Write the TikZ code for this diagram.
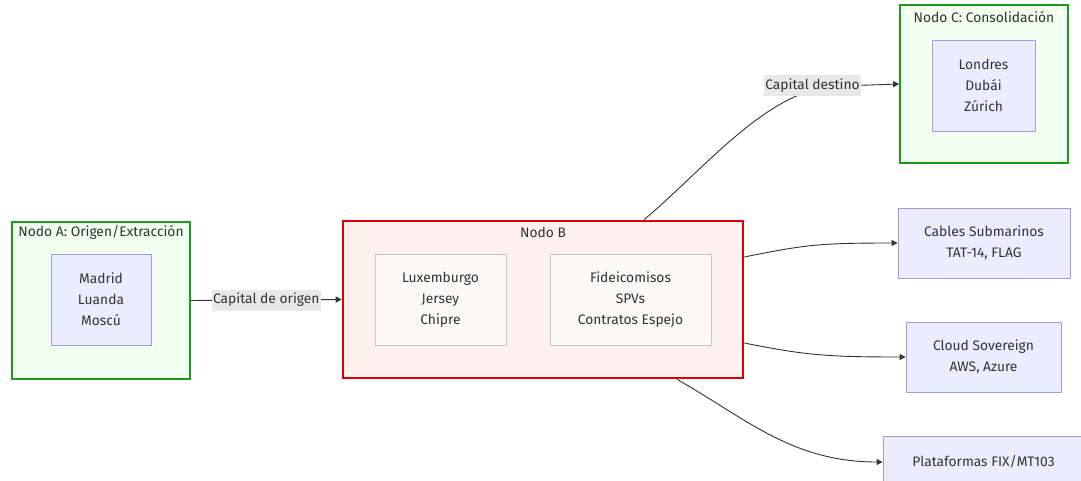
\documentclass[tikz,border=0pt]{standalone}
\usepackage{fontspec}
\setmainfont{Fira Sans}
\usetikzlibrary{arrows.meta}
\definecolor{txt}{HTML}{333333}
\definecolor{edge}{HTML}{333333}
\definecolor{grnline}{HTML}{1E9A1E}
\definecolor{grnfill}{HTML}{F0FFF0}
\definecolor{redline}{HTML}{DD0000}
\definecolor{redfill}{HTML}{FFF0F0}
\definecolor{purfill}{HTML}{ECECFF}
\definecolor{purline}{HTML}{A898E0}
\definecolor{grayfill}{HTML}{FCF8F8}
\definecolor{grayline}{HTML}{C8C8C8}
\definecolor{lblfill}{HTML}{E8E8E8}
\begin{document}
\begin{tikzpicture}[x=1pt,y=-1pt,
  font=\fontsize{13.8}{21}\selectfont, text=txt,
  cluster/.style={draw, rectangle, inner sep=0pt},
  greencl/.style={cluster, draw=grnline, fill=grnfill, line width=1.8pt},
  redcl/.style={cluster, draw=redline, fill=redfill, line width=2.6pt},
  itembox/.style={draw=purline, fill=purfill, line width=0.9pt, inner sep=0pt, align=center},
  graybox/.style={draw=grayline, fill=grayfill, line width=0.9pt, inner sep=0pt, align=center},
  ctitle/.style={anchor=center, inner sep=0pt},
  flow/.style={draw=edge, line width=0.9pt, -{Triangle[length=6pt,width=6pt]}},
  elabel/.style={fill=lblfill, inner xsep=1.5pt, inner ysep=0pt, minimum height=21pt, text=txt}]
\useasboundingbox (0,0) rectangle (1081,481);
\fill[white] (0,0) rectangle (1081,481);

% Node A cluster
\node[greencl, minimum width=178pt, minimum height=157pt] (A) at (101,300.5) {};
\node[ctitle] (Atitle) at (101,232) {Nodo A: Origen/Extracción};
\node[itembox, minimum width=100pt, minimum height=91pt] (Acities) at (101,299.5) {Madrid\\Luanda\\Moscú};

% Node B cluster
\node[redcl, minimum width=400pt, minimum height=157pt] (B) at (543,299.5) {};
\node[ctitle] (Btitle) at (543,232) {Nodo B};
\node[graybox, minimum width=131pt, minimum height=91pt] (Bjur) at (440.5,299.5) {Luxemburgo\\Jersey\\Chipre};
\node[graybox, minimum width=161pt, minimum height=91pt] (Bveh) at (630.5,299.5) {Fideicomisos\\SPVs\\Contratos Espejo};

% Node C cluster
\node[greencl, minimum width=168pt, minimum height=158pt] (C) at (984,84) {};
\node[ctitle] (Ctitle) at (984,17) {Nodo C: Consolidación};
\node[itembox, minimum width=103pt, minimum height=91pt] (Ccities) at (983.5,85.5) {Londres\\Dubái\\Zúrich};

% Infrastructure targets
\node[itembox, minimum width=172pt, minimum height=70pt] (Cab) at (984,243) {Cables Submarinos\\TAT-14, FLAG};
\node[itembox, minimum width=155pt, minimum height=70pt] (Cld) at (983.5,357) {Cloud Sovereign\\AWS, Azure};
\node[itembox, minimum width=201pt, minimum height=52pt] (Plt) at (983.5,462) {Plataformas FIX/MT103};

% Connectors
\draw[flow] (A.east) -- node[elabel] (lab1) {Capital de origen} (B.west);

\draw[flow] ([xshift=101pt]B.north) .. controls +(60pt,50pt) and +(-70pt,0pt) .. (840,86) -- (C.west);
\node[elabel] (lab2) at (812.5,85.5) {Capital destino};

\draw[flow] ([yshift=42.5pt]B.east) .. controls +(60pt,12pt) and +(-80pt,0pt) .. (Cab.west);
\draw[flow] ([yshift=-43.5pt]B.east) .. controls +(60pt,-12pt) and +(-80pt,0pt) .. (Cld.west);
\draw[flow] ([xshift=134pt]B.south) .. controls +(70pt,-40pt) and +(-90pt,0pt) .. (Plt.west);
\end{tikzpicture}
\end{document}
